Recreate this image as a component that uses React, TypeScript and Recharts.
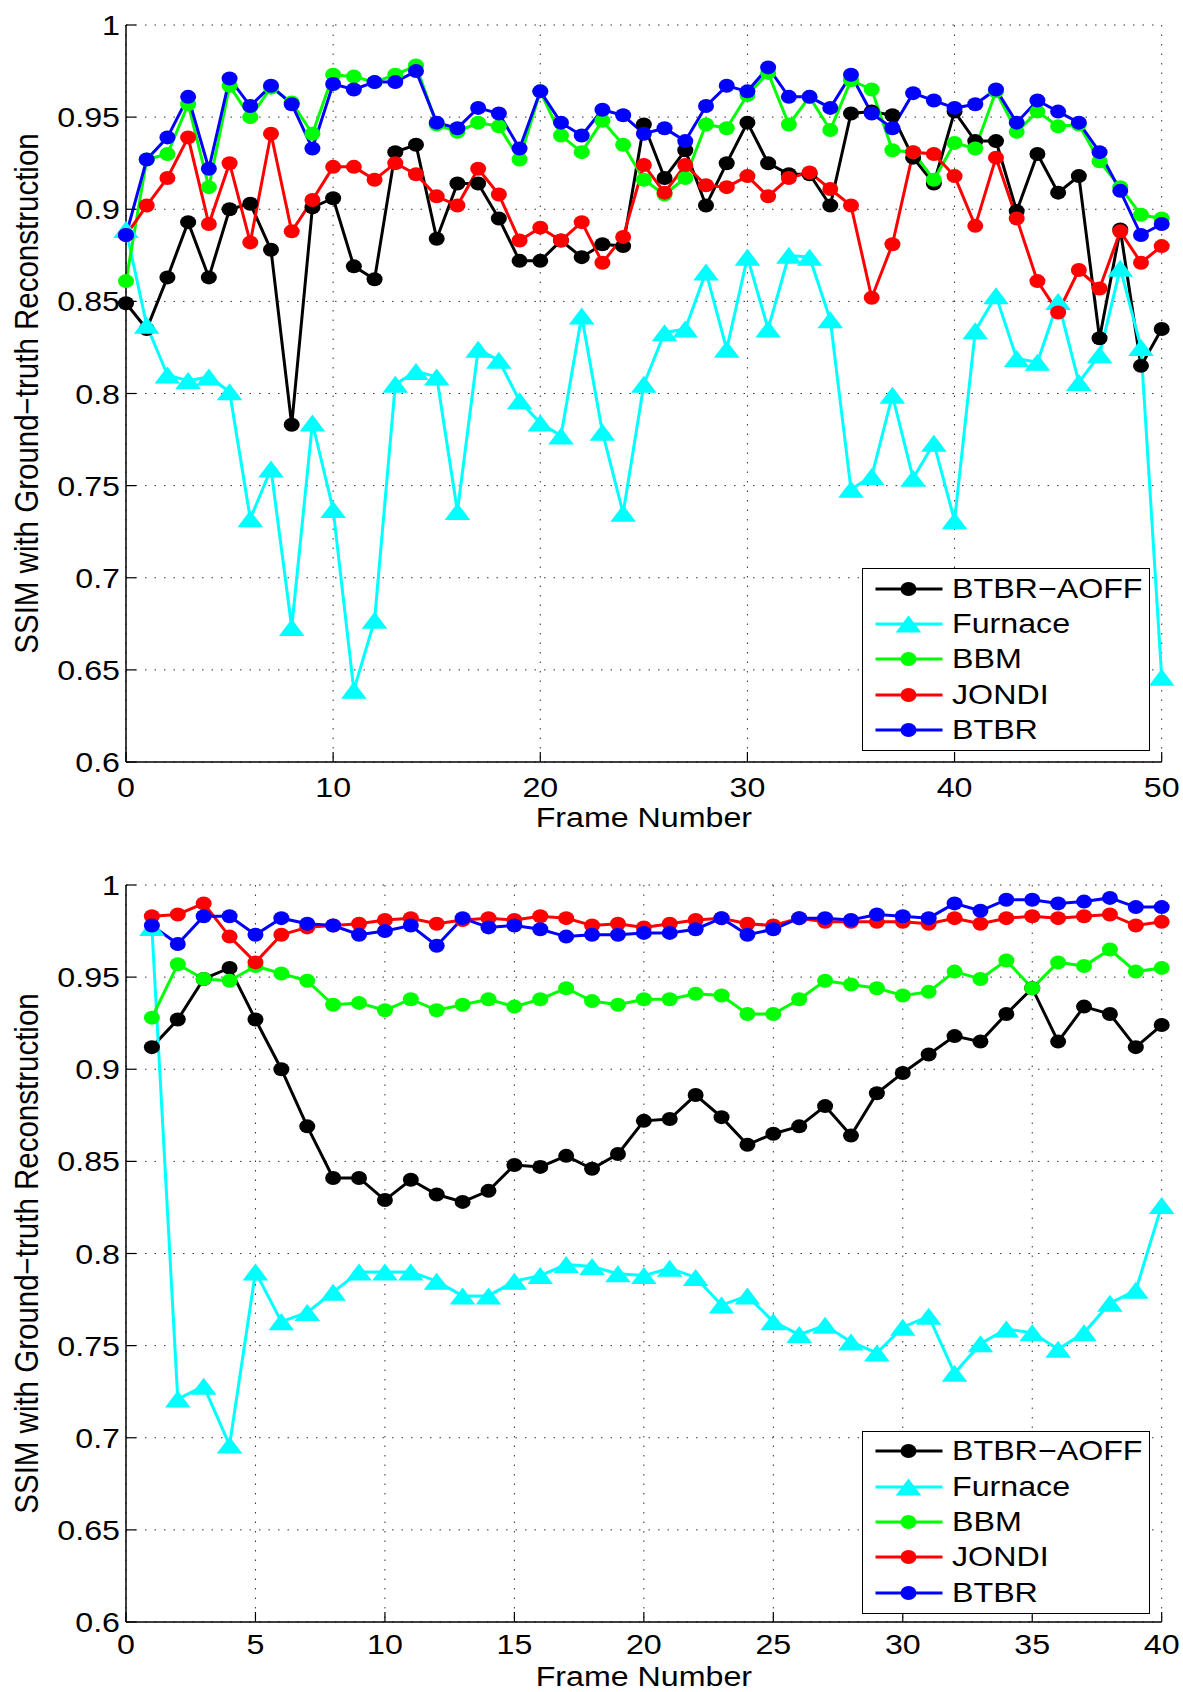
import React from 'react';
import { LineChart, Line, XAxis, YAxis, CartesianGrid, Legend } from 'recharts';

const FONT = '"Liberation Sans", Arial, Helvetica, sans-serif';
const STRETCH = 1.15;

// ---- top panel: frames 0..50
const topFrames = [0, 1, 2, 3, 4, 5, 6, 7, 8, 9, 10, 11, 12, 13, 14, 15, 16, 17, 18, 19, 20, 21, 22, 23, 24, 25,
  26, 27, 28, 29, 30, 31, 32, 33, 34, 35, 36, 37, 38, 39, 40, 41, 42, 43, 44, 45, 46, 47, 48, 49, 50];
const topAoff = [0.849, 0.835, 0.863, 0.893, 0.863, 0.900, 0.903, 0.878, 0.783, 0.901, 0.906, 0.869, 0.862, 0.931, 0.935, 0.884,
  0.914, 0.914, 0.895, 0.872, 0.872, 0.883, 0.874, 0.881, 0.880, 0.946, 0.917, 0.932, 0.902, 0.925, 0.947, 0.925, 0.919, 0.919,
  0.902, 0.952, 0.953, 0.951, 0.928, 0.914, 0.953, 0.937, 0.937, 0.899, 0.930, 0.909, 0.918, 0.830, 0.889, 0.815, 0.835];
const topFurnace = [0.889, 0.837, 0.810, 0.807, 0.809, 0.801, 0.732, 0.759, 0.673, 0.784, 0.737, 0.639, 0.677, 0.805, 0.812, 0.809,
  0.736, 0.824, 0.818, 0.796, 0.784, 0.777, 0.842, 0.779, 0.735, 0.805, 0.833, 0.835, 0.866, 0.824, 0.874, 0.835, 0.875, 0.874,
  0.840, 0.748, 0.755, 0.799, 0.754, 0.773, 0.731, 0.834, 0.853, 0.819, 0.817, 0.850, 0.806, 0.821, 0.868, 0.825, 0.646];
const topBbm = [0.861, 0.927, 0.930, 0.957, 0.912, 0.967, 0.950, 0.966, 0.958, 0.941, 0.973, 0.972, 0.969, 0.973, 0.978, 0.946,
  0.942, 0.947, 0.945, 0.927, 0.964, 0.940, 0.931, 0.948, 0.935, 0.916, 0.908, 0.917, 0.946, 0.944, 0.962, 0.974, 0.946, 0.961,
  0.943, 0.970, 0.965, 0.932, 0.931, 0.916, 0.936, 0.933, 0.964, 0.942, 0.953, 0.945, 0.946, 0.926, 0.912, 0.897, 0.895];
const topJondi = [0.886, 0.902, 0.917, 0.939, 0.892, 0.925, 0.882, 0.941, 0.888, 0.905, 0.923, 0.923, 0.916, 0.925, 0.919, 0.907,
  0.902, 0.922, 0.908, 0.883, 0.890, 0.883, 0.893, 0.871, 0.885, 0.924, 0.909, 0.924, 0.913, 0.912, 0.918, 0.907, 0.917, 0.920,
  0.911, 0.902, 0.852, 0.881, 0.931, 0.930, 0.918, 0.891, 0.928, 0.895, 0.861, 0.844, 0.867, 0.857, 0.888, 0.871, 0.880];
const topBtbr = [0.886, 0.927, 0.939, 0.961, 0.922, 0.971, 0.956, 0.967, 0.957, 0.933, 0.968, 0.965, 0.969, 0.969, 0.975, 0.947,
  0.944, 0.955, 0.952, 0.933, 0.964, 0.947, 0.940, 0.954, 0.951, 0.941, 0.944, 0.937, 0.956, 0.967, 0.964, 0.977, 0.961, 0.961,
  0.955, 0.973, 0.952, 0.944, 0.963, 0.959, 0.955, 0.957, 0.965, 0.947, 0.959, 0.953, 0.947, 0.931, 0.910, 0.886, 0.892];

// ---- bottom panel: frames 1..40
const bottomFrames = [1, 2, 3, 4, 5, 6, 7, 8, 9, 10, 11, 12, 13, 14, 15, 16, 17, 18, 19, 20,
  21, 22, 23, 24, 25, 26, 27, 28, 29, 30, 31, 32, 33, 34, 35, 36, 37, 38, 39, 40];
const bottomAoff = [0.912, 0.927, 0.949, 0.955, 0.927, 0.900, 0.869, 0.841, 0.841, 0.829, 0.840, 0.832, 0.828, 0.834, 0.848, 0.847,
  0.853, 0.846, 0.854, 0.872, 0.873, 0.886, 0.874, 0.859, 0.865, 0.869, 0.880, 0.864, 0.887, 0.898, 0.908, 0.918, 0.915, 0.930,
  0.944, 0.915, 0.934, 0.930, 0.912, 0.924];
const bottomFurnace = [0.977, 0.721, 0.728, 0.696, 0.790, 0.763, 0.768, 0.779, 0.790, 0.790, 0.790, 0.785, 0.777, 0.777, 0.785, 0.788,
  0.794, 0.793, 0.789, 0.788, 0.792, 0.787, 0.772, 0.777, 0.763, 0.756, 0.761, 0.752, 0.746, 0.760, 0.766, 0.735, 0.751, 0.759,
  0.757, 0.748, 0.757, 0.773, 0.780, 0.826];
const bottomBbm = [0.928, 0.957, 0.949, 0.948, 0.956, 0.952, 0.948, 0.935, 0.936, 0.932, 0.938, 0.932, 0.935, 0.938, 0.934, 0.938,
  0.944, 0.937, 0.935, 0.938, 0.938, 0.941, 0.940, 0.930, 0.930, 0.938, 0.948, 0.946, 0.944, 0.940, 0.942, 0.953, 0.949, 0.959,
  0.944, 0.958, 0.956, 0.965, 0.953, 0.955];
const bottomJondi = [0.983, 0.984, 0.990, 0.972, 0.958, 0.973, 0.977, 0.978, 0.979, 0.981, 0.982, 0.979, 0.981, 0.982, 0.981, 0.983,
  0.982, 0.978, 0.979, 0.977, 0.979, 0.981, 0.982, 0.979, 0.978, 0.982, 0.980, 0.980, 0.980, 0.980, 0.979, 0.982, 0.979, 0.982,
  0.983, 0.982, 0.983, 0.984, 0.978, 0.980];
const bottomBtbr = [0.978, 0.968, 0.983, 0.983, 0.973, 0.982, 0.979, 0.978, 0.973, 0.975, 0.978, 0.967, 0.982, 0.977, 0.978, 0.976,
  0.972, 0.973, 0.973, 0.974, 0.974, 0.976, 0.982, 0.973, 0.976, 0.982, 0.982, 0.981, 0.984, 0.983, 0.982, 0.990, 0.986, 0.992,
  0.992, 0.990, 0.991, 0.993, 0.988, 0.988];

const yTicks = [0.6, 0.65, 0.7, 0.75, 0.8, 0.85, 0.9, 0.95, 1];
const topXTicks = [0, 10, 20, 30, 40, 50];
const bottomXTicks = [0, 5, 10, 15, 20, 25, 30, 35, 40];

const seriesNames = ['BTBR\u2212AOFF', 'Furnace', 'BBM', 'JONDI', 'BTBR'];
const seriesColors = ['#000000', '#00ffff', '#00ff00', '#ff0000', '#0000ff'];
const seriesMarkers = ['circle', 'triangle', 'circle', 'circle', 'circle'];

const buildRows = (frames: number[], series: number[][]) =>
  frames.map((f, i) => {
    const row: Record<string, number> = { frame: f };
    series.forEach((s, k) => {
      row['s' + k] = s[i];
    });
    return row;
  });

const Marker = ({ cx, cy, color, kind }: { cx: number; cy: number; color: string; kind: string }) =>
  kind === 'triangle' ? (
    <polygon points={`${cx - 12.8},${cy + 8.5} ${cx + 12.8},${cy + 8.5} ${cx},${cy - 8.5}`} fill={color} />
  ) : (
    <ellipse cx={cx} cy={cy} rx={8} ry={7} fill={color} />
  );

const makeDot = (color: string, kind: string) => (props: any) => {
  const { cx, cy, index } = props;
  if (cx == null || cy == null) return <g key={index} />;
  return (
    <g key={index}>
      <Marker cx={cx} cy={cy} color={color} kind={kind} />
    </g>
  );
};

const makeXTick = (offset: number) => (props: any) => {
  const { x, y, payload } = props;
  return (
    <g>
      <line x1={x} x2={x} y1={y} y2={y - 10} stroke="#000" strokeWidth={1.2} />
      <text
        transform={`translate(${x},${y + offset}) scale(${STRETCH},1)`}
        textAnchor="middle"
        dy="0.36em"
        fontFamily={FONT}
        fontSize={28}
        fill="#000"
      >
        {payload.value}
      </text>
    </g>
  );
};

const YTick = (props: any) => {
  const { x, y, payload } = props;
  const label = String(Math.round(payload.value * 100) / 100);
  return (
    <g>
      <line x1={x} x2={x + 10} y1={y} y2={y} stroke="#000" strokeWidth={1.2} />
      <text
        transform={`translate(${x - 6},${y}) scale(${STRETCH},1)`}
        textAnchor="end"
        dy="0.36em"
        fontFamily={FONT}
        fontSize={28}
        fill="#000"
      >
        {label}
      </text>
    </g>
  );
};

const renderLegend = () => (
  <div
    style={{
      boxSizing: 'border-box',
      width: 288,
      height: 183,
      border: '1.5px solid #000',
      background: '#fff',
      paddingTop: 2,
    }}
  >
    {seriesNames.map((name, k) => (
      <div key={name} style={{ display: 'flex', alignItems: 'center', height: 35.4 }}>
        <svg width={84} height={30} style={{ flex: 'none', display: 'block' }}>
          <line x1={12.5} x2={79.5} y1={15} y2={15} stroke={seriesColors[k]} strokeWidth={3} />
          <Marker cx={45.5} cy={15} color={seriesColors[k]} kind={seriesMarkers[k]} />
        </svg>
        <span
          style={{
            marginLeft: 4.5,
            fontFamily: FONT,
            fontSize: 28,
            lineHeight: '30px',
            color: '#000',
            whiteSpace: 'nowrap',
            display: 'inline-block',
            transform: `scaleX(${STRETCH})`,
            transformOrigin: 'left center',
          }}
        >
          {name}
        </span>
      </div>
    ))}
  </div>
);

interface PanelProps {
  frames: number[];
  series: number[][];
  xTicks: number[];
  xMax: number;
  marginTop: number;
  marginBottom: number;
  legendTop: number;
  tickOffset: number;
  xLabelOffset: number;
}

const W = 1183;
const H = 846;
const PLOT_H = 737;

const Panel: React.FC<PanelProps> = ({ frames, series, xTicks, xMax, marginTop, marginBottom, legendTop, tickOffset, xLabelOffset }) => {
  const rows = buildRows(frames, series);
  const plotCenterY = marginTop + PLOT_H / 2;
  const plotBottom = marginTop + PLOT_H;
  const XTick = makeXTick(tickOffset);
  return (
    <LineChart width={W} height={H} data={rows} margin={{ top: marginTop, right: 21.3, bottom: marginBottom, left: 26 }}>
      <CartesianGrid stroke="#333" strokeWidth={1} strokeDasharray="1.5 8" />
      <XAxis
        dataKey="frame"
        type="number"
        domain={[0, xMax]}
        ticks={xTicks}
        interval={0}
        height={60}
        tickSize={0}
        tickMargin={0}
        tickLine={false}
        axisLine={{ stroke: '#000', strokeWidth: 1.5 }}
        tick={<XTick />}
        label={{
          content: () => (
            <text
              transform={`translate(${126 + (W - 21.3 - 126) / 2},${plotBottom + xLabelOffset}) scale(${STRETCH},1)`}
              textAnchor="middle"
              dy="0.36em"
              fontFamily={FONT}
              fontSize={28}
              fill="#000"
            >
              Frame Number
            </text>
          ),
        }}
      />
      <YAxis
        type="number"
        domain={[0.6, 1]}
        ticks={yTicks}
        interval={0}
        width={100}
        tickSize={0}
        tickMargin={0}
        tickLine={false}
        allowDataOverflow
        axisLine={{ stroke: '#000', strokeWidth: 1.5 }}
        tick={<YTick />}
        label={{
          content: () => (
            <text
              transform={`translate(28,${plotCenterY}) scale(1.1,1) rotate(-90)`}
              textAnchor="middle"
              dy="0.3em"
              fontFamily={FONT}
              fontSize={29.5}
              fill="#000"
            >
              SSIM with Ground{'\u2212'}truth Reconstruction
            </text>
          ),
        }}
      />
      <Legend
        layout="vertical"
        align="center"
        verticalAlign="middle"
        wrapperStyle={{ left: 862, top: legendTop, width: 288, height: 183 }}
        content={renderLegend}
      />
      {series.map((_, k) => (
        <Line
          key={seriesNames[k]}
          dataKey={'s' + k}
          name={seriesNames[k]}
          stroke={seriesColors[k]}
          strokeWidth={3}
          type="linear"
          dot={makeDot(seriesColors[k], seriesMarkers[k])}
          activeDot={false}
          isAnimationActive={false}
        />
      ))}
    </LineChart>
  );
};

export default function App() {
  return (
    <div style={{ position: 'absolute', left: 0, top: 0, width: 1183, height: 1692, background: '#fff', overflow: 'hidden' }}>
      <Panel
        frames={topFrames}
        series={[topAoff, topFurnace, topBbm, topJondi, topBtbr]}
        xTicks={topXTicks}
        xMax={50}
        marginTop={25}
        marginBottom={24}
        legendTop={568}
        tickOffset={25}
        xLabelOffset={55}
      />
      <Panel
        frames={bottomFrames}
        series={[bottomAoff, bottomFurnace, bottomBbm, bottomJondi, bottomBtbr]}
        xTicks={bottomXTicks}
        xMax={40}
        marginTop={39}
        marginBottom={10}
        legendTop={584.5}
        tickOffset={22}
        xLabelOffset={53.5}
      />
    </div>
  );
}
